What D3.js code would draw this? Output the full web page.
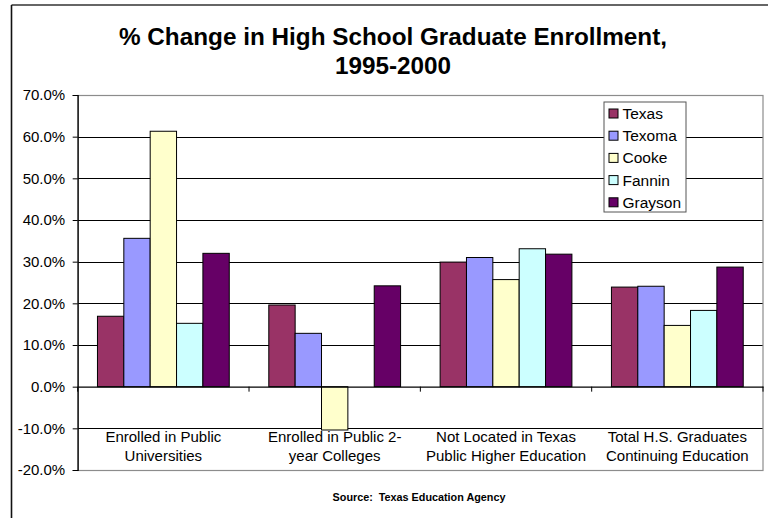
<!DOCTYPE html>
<html>
<head>
<meta charset="utf-8">
<script src="https://cdn.jsdelivr.net/npm/d3@7"></script>
<style>
  html, body { margin: 0; padding: 0; background: #fff; }
  svg { display: block; font-family: Arial, "Liberation Sans", sans-serif; }
</style>
</head>
<body>
<svg id="chart" width="768" height="518"></svg>
<script>
// Category labels (two lines each)
const categories = [
  ["Enrolled in Public", "Universities"],
  ["Enrolled in Public 2-", "year Colleges"],
  ["Not Located in Texas", "Public Higher Education"],
  ["Total H.S. Graduates", "Continuing Education"]
];
const seriesNames = ["Texas", "Texoma", "Cooke", "Fannin", "Grayson"];
const seriesColors = ["#993366", "#9999FF", "#FFFFCC", "#CCFFFF", "#660066"];

// Percent change per series, one value per category (null = no bar)
const texas   = [16.9, 19.6, 29.9, 23.9];
const texoma  = [35.6, 12.8, 31.0, 24.1];
const cooke   = [61.3, -10.4, 25.7, 14.7];
const fannin  = [15.2, null, 33.1, 18.3];
const grayson = [32.0, 24.2, 31.8, 28.7];
const seriesValues = [texas, texoma, cooke, fannin, grayson];

const yTicks = [-20, -10, 0, 10, 20, 30, 40, 50, 60, 70];

const svg = d3.select("#chart");

// Outer chart frame (top and left edges visible)
svg.append("line").attr("x1", 11.5).attr("x2", 768).attr("y1", 5).attr("y2", 5)
  .attr("stroke", "#333").attr("stroke-width", 1.6);
svg.append("line").attr("x1", 11.5).attr("x2", 11.5).attr("y1", 5).attr("y2", 518)
  .attr("stroke", "#111").attr("stroke-width", 1.6);

// Title
const title = svg.append("text").attr("text-anchor", "middle")
  .attr("font-weight", "bold").attr("font-size", 24.3).attr("fill", "#000");
title.append("tspan").attr("x", 393).attr("y", 45).text("% Change in High School Graduate Enrollment,");
title.append("tspan").attr("x", 393).attr("y", 73.5).text("1995-2000");

// Plot area
const plotL = 77.7, plotR = 763, plotT = 95, plotB = 470;
const y = d3.scaleLinear().domain([-20, 70]).range([plotB, plotT]);
const x0 = d3.scaleBand().domain(d3.range(categories.length)).range([plotL, plotR]);
const bw = x0.bandwidth() / (seriesNames.length + 1.5);
const x1 = d3.scaleBand().domain(d3.range(seriesNames.length))
  .range([bw * 0.75, bw * 0.75 + bw * seriesNames.length]);

// Gridlines
svg.append("g").selectAll("line").data(yTicks.filter(t => t !== -20 && t !== 70 && t !== 0))
  .join("line")
  .attr("x1", plotL).attr("x2", plotR)
  .attr("y1", d => Math.round(y(d)) + 0.5).attr("y2", d => Math.round(y(d)) + 0.5)
  .attr("stroke", "#000").attr("stroke-width", 1);

// Plot area border (gray)
svg.append("rect").attr("x", plotL).attr("y", plotT + 0.5)
  .attr("width", plotR - plotL).attr("height", plotB - plotT)
  .attr("fill", "none").attr("stroke", "#8c8c8c").attr("stroke-width", 1.2);

// Y axis
const yAxis = d3.axisLeft(y).tickValues(yTicks).tickSize(5)
  .tickFormat(d => d.toFixed(1) + "%");
const gy = svg.append("g").attr("transform", `translate(${plotL},0)`).call(yAxis);
gy.select(".domain").attr("stroke", "#000").attr("stroke-width", 1.2);
gy.selectAll(".tick line").attr("stroke", "#000");
gy.selectAll(".tick text").attr("font-size", 15).attr("fill", "#000")
  .attr("font-family", "Arial, 'Liberation Sans', sans-serif").attr("x", -12.5);

// Bars
const groups = svg.append("g").selectAll("g").data(categories.map((c, i) => i)).join("g")
  .attr("transform", i => `translate(${x0(i)},0)`);
groups.selectAll("rect")
  .data(i => seriesValues.map((s, k) => ({ k, v: s[i] })).filter(d => d.v !== null))
  .join("rect")
  .attr("x", d => x1(d.k))
  .attr("width", x1.bandwidth())
  .attr("y", d => y(Math.max(0, d.v)))
  .attr("height", d => Math.abs(y(d.v) - y(0)))
  .attr("fill", d => seriesColors[d.k])
  .attr("stroke", "#000").attr("stroke-width", 1);

// Category axis at zero
const xAxis = d3.axisBottom(x0).tickSize(0).tickFormat("");
const gx = svg.append("g").attr("transform", `translate(0,${y(0)})`).call(xAxis);
gx.select(".domain").attr("stroke", "#000").attr("stroke-width", 1.2);
// Boundary tick marks between categories
gx.selectAll(".sep").data(d3.range(categories.length + 1)).join("line")
  .attr("class", "sep")
  .attr("x1", i => plotL + i * x0.step()).attr("x2", i => plotL + i * x0.step())
  .attr("y1", 0).attr("y2", 5).attr("stroke", "#000");

// Category labels
categories.forEach((lines, i) => {
  const t = svg.append("text").attr("text-anchor", "middle")
    .attr("font-size", 15).attr("fill", "#000");
  lines.forEach((ln, j) => {
    t.append("tspan").attr("x", x0(i) + x0.bandwidth() / 2).attr("y", 442 + j * 19).text(ln);
  });
});

// Legend
const lg = svg.append("g").attr("transform", "translate(604,102)");
lg.append("rect").attr("width", 82).attr("height", 110)
  .attr("fill", "#fff").attr("stroke", "#555").attr("stroke-width", 1);
seriesNames.forEach((name, k) => {
  const row = lg.append("g").attr("transform", `translate(0,${11.5 + k * 22.2})`);
  row.append("rect").attr("x", 5).attr("y", -4.5).attr("width", 9).attr("height", 9)
    .attr("fill", seriesColors[k]).attr("stroke", "#000").attr("stroke-width", 1);
  row.append("text").attr("x", 18.5).attr("y", 5.5).attr("font-size", 15.5)
    .attr("fill", "#000").text(name);
});

// Source note
svg.append("text").attr("x", 419).attr("y", 500.5).attr("text-anchor", "middle")
  .attr("font-size", 10.8).attr("font-weight", "bold").attr("fill", "#000")
  .attr("xml:space", "preserve").text("Source:  Texas Education Agency");
</script>
</body>
</html>
